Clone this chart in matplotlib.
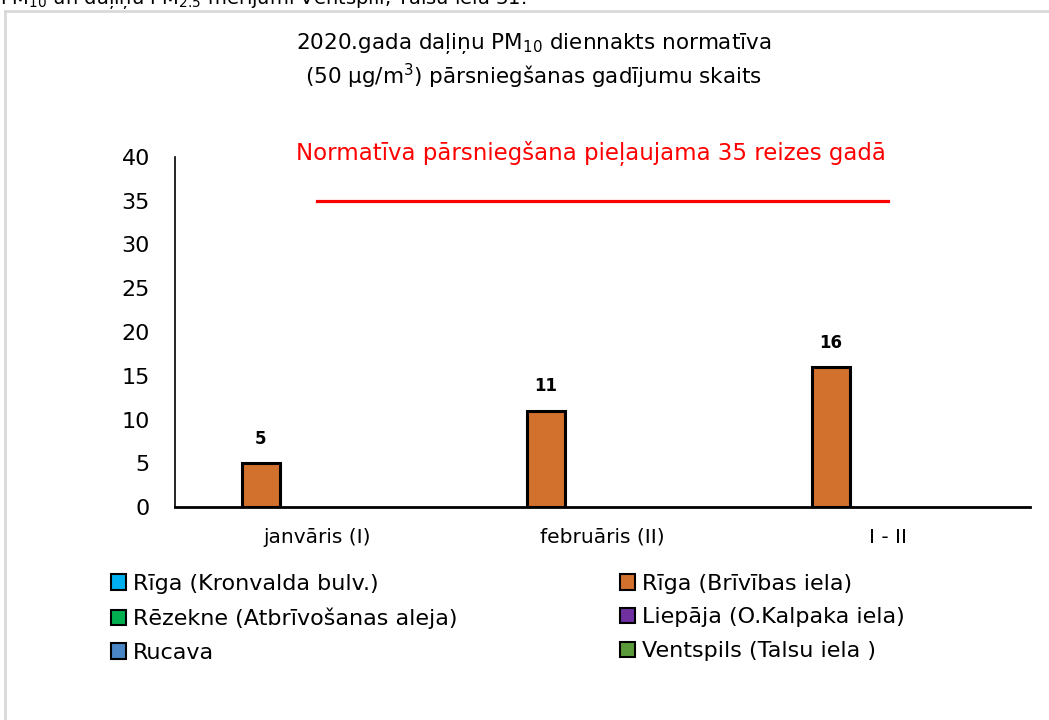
import numpy as np
import matplotlib.pyplot as plt
from matplotlib.lines import Line2D

categories = ['janvāris (I)', 'februāris (II)', 'I - II']
stations = ['Rīga (Kronvalda bulv.)', 'Rīga (Brīvības iela)',
            'Rēzekne (Atbrīvošanas aleja)', 'Liepāja (O.Kalpaka iela)',
            'Rucava', 'Ventspils (Talsu iela )']
exceed_counts = [
    [np.nan, np.nan, np.nan],   # Kronvalda - no data
    [5, 11, 16],                # Brivibas
    [np.nan, np.nan, np.nan],
    [np.nan, np.nan, np.nan],
    [np.nan, np.nan, np.nan],
    [np.nan, np.nan, np.nan],
]
limit_values = [35, 35, 35]
colors = ['#00B0F0', '#D2702E', '#00B050', '#7030A0', '#4A86C5', '#5B9A3A']

plt.rcParams['font.family'] = ['DejaVu Sans']
plt.rcParams['mathtext.fontset'] = 'dejavusans'

fig = plt.figure(figsize=(10.49, 7.2), dpi=100)
ax = fig.add_axes([0.1668, 0.2958, 0.8152, 0.4862])

x = np.arange(len(categories))
w = 0.1333
handles = []
for i, (name, vals) in enumerate(zip(stations, exceed_counts)):
    pos = x + (i - 2.5) * w
    bars = ax.bar(pos, vals, w, color=colors[i], edgecolor='black', linewidth=2.2, label=name)
    handles.append(bars)
    for p, v in zip(pos, vals):
        if not np.isnan(v):
            ax.annotate(str(int(v)), (p, v), xytext=(0, 11), textcoords='offset points',
                        ha='center', va='bottom', fontsize=12, fontweight='bold')

ax.plot(x, limit_values, color='#FF0000', linewidth=2.3)
ax.text(0.96, 40.45, 'Normatīva pārsniegšana pieļaujama 35 reizes gadā', color='#FF0000',
        ha='center', va='center', fontsize=16.5)

ax.set_xlim(-0.5, 2.5)
ax.set_ylim(0, 40)
ax.set_yticks(range(0, 41, 5))
ax.set_xticks(x)
ax.set_xticklabels(categories, fontsize=14.5)
ax.tick_params(axis='y', length=0, labelsize=16, pad=18)
ax.tick_params(axis='x', length=0, pad=15)
for s in ['top', 'right']:
    ax.spines[s].set_visible(False)
ax.spines['left'].set_linewidth(1.2)
ax.spines['bottom'].set_linewidth(2)

fig.text(0.509, 0.915, '2020.gada daļiņu PM$_{10}$ diennakts normatīva\n(50 μg/m$^3$) pārsniegšanas gadījumu skaits',
         ha='center', va='center', fontsize=15.5, linespacing=1.25)

order = [0, 2, 4, 1, 3, 5]
leg = fig.legend([handles[k] for k in order], [stations[k] for k in order], ncol=2,
                 loc='upper left', bbox_to_anchor=(0.087, 0.231), frameon=False,
                 fontsize=16, handlelength=0.68, handleheight=0.68, handletextpad=0.3,
                 columnspacing=7.3, labelspacing=0.62)
for h in leg.legend_handles:
    h.set_linewidth(1.5)

# frame of the embedded chart and the cut-off caption above it
fig.add_artist(Line2D([0.005, 0.005], [0, 0.985], color='#D9D9D9', linewidth=2, transform=fig.transFigure))
fig.add_artist(Line2D([0.005, 1.0], [0.985, 0.985], color='#D9D9D9', linewidth=2, transform=fig.transFigure))
fig.text(0.0, 0.994, 'PM$_{10}$ un daļiņu PM$_{2.5}$ mērījumi Ventspilī, Talsu iela 31.',
         ha='left', va='baseline', fontsize=14)

fig.savefig('out.png', dpi=100, facecolor='white')
